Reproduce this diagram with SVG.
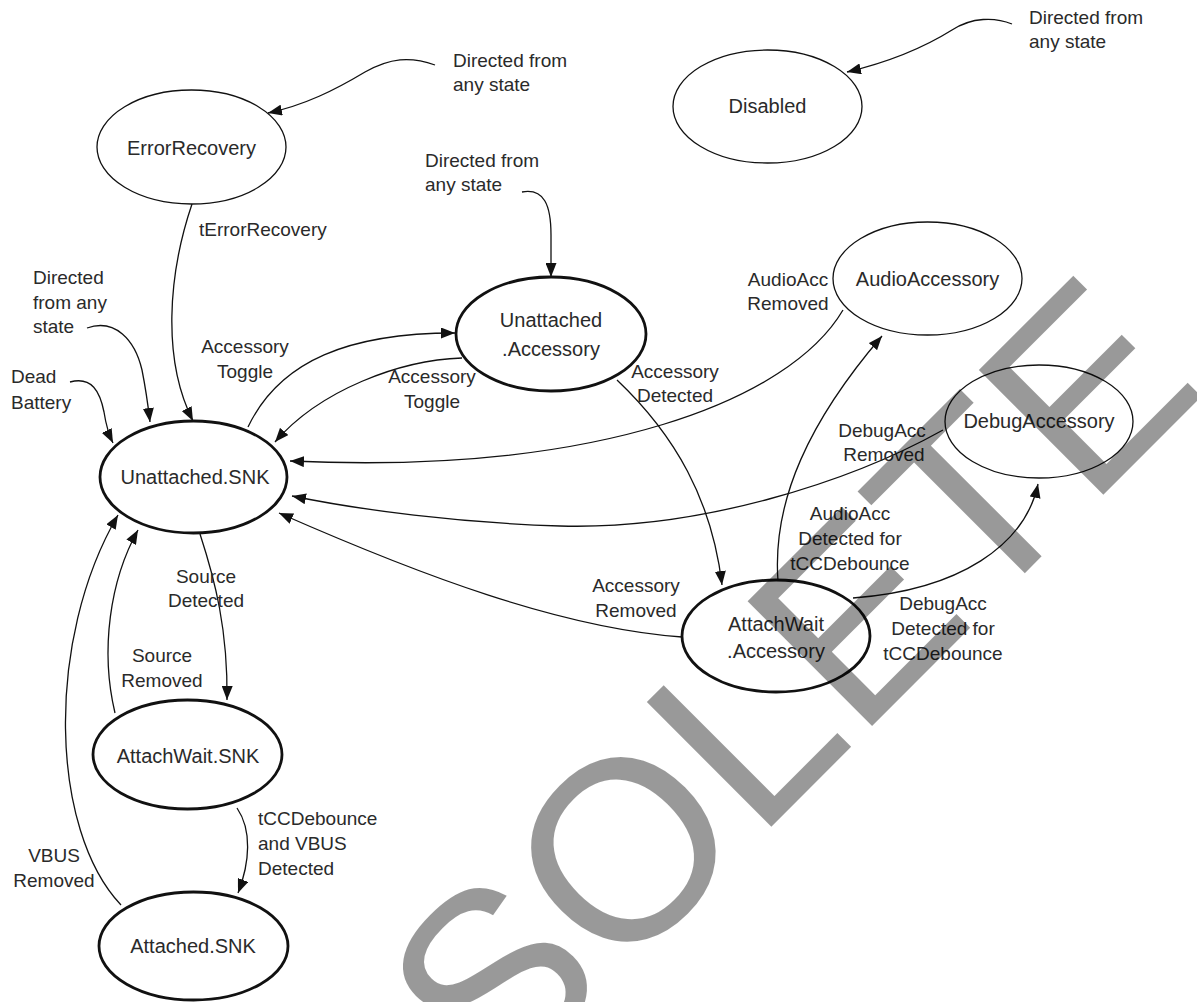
<svg xmlns="http://www.w3.org/2000/svg" width="1197" height="1002" viewBox="0 0 1197 1002">
<style>
  .bg { fill: #ffffff; }
  .thin { fill: none; stroke: #111; stroke-width: 1.3; }
  .thick { fill: none; stroke: #111; stroke-width: 2.8; }
  .ntext { font-family: "Liberation Sans", Arial, sans-serif; font-size: 20px; fill: #2a2a2a; text-anchor: middle; }
  .lbl { font-family: "Liberation Sans", Arial, sans-serif; font-size: 19px; fill: #2a2a2a; }
  .mid { text-anchor: middle; }
  .edge { fill: none; stroke: #111; stroke-width: 1.3; marker-end: url(#arr); }
  .plain { fill: none; stroke: #111; stroke-width: 1.3; }
  .wm { font-family: "Liberation Sans", Arial, sans-serif; font-size: 256px; fill: #000; fill-opacity: 0.4; }
</style>
<defs>
  <marker id="arr" viewBox="0 0 14 11" refX="14" refY="5.5" markerWidth="14" markerHeight="11" orient="auto" markerUnits="userSpaceOnUse">
    <path d="M0,0 L14,5.5 L0,11 z" fill="#111"/>
  </marker>
</defs>
<rect class="bg" x="0" y="0" width="1197" height="1002"/>

<g id="connectors">
  <path class="edge" d="M435,65 C410,56 390,58 365,72 C335,90 305,105 268,113"/>
  <path class="edge" d="M522,192 C544,188 551,205 551,235 L551,277"/>
  <path class="edge" d="M1012,24 C995,17 972,17 952,30 C920,50 885,63 847,72"/>
  <path class="edge" d="M87,328 C115,318 135,340 142,370 C146,390 148,405 150,422"/>
  <path class="edge" d="M70,382 C92,376 100,392 104,412 C106,425 109,435 113,443"/>
  <path class="edge" d="M192,204 C168,275 162,360 193,421"/>
  <path class="edge" d="M248,427 C280,360 350,333 455,333"/>
  <path class="edge" d="M462,358 C400,360 320,390 275,442"/>
  <path class="edge" d="M617,380 C675,435 712,500 722,585"/>
  <path class="edge" d="M843,310 C790,400 600,475 290,461"/>
  <path class="edge" d="M943,430 C850,482 700,530 560,526 C460,523 360,510 292,496"/>
  <path class="edge" d="M682,637 C560,628 420,575 279,513"/>
  <path class="edge" d="M778,581 C772,500 810,420 882,336"/>
  <path class="edge" d="M853,598 C960,590 1025,545 1038,484"/>
  <path class="edge" d="M200,534 C215,580 228,630 227,700"/>
  <path class="edge" d="M115,713 C100,650 110,580 138,530"/>
  <path class="edge" d="M121,905 C50,830 45,640 118,515"/>
  <path class="edge" d="M237,808 C252,830 250,862 238,893"/>
</g>

<g id="labels">
  <text class="lbl" x="453" y="67">Directed from</text>
  <text class="lbl" x="453" y="91">any state</text>
  <text class="lbl" x="425" y="167">Directed from</text>
  <text class="lbl" x="425" y="191">any state</text>
  <text class="lbl" x="1029" y="24">Directed from</text>
  <text class="lbl" x="1029" y="48">any state</text>
  <text class="lbl" x="199" y="236">tErrorRecovery</text>
  <text class="lbl" x="33" y="284">Directed</text>
  <text class="lbl" x="33" y="309">from any</text>
  <text class="lbl" x="33" y="333">state</text>
  <text class="lbl" x="11" y="383">Dead</text>
  <text class="lbl" x="11" y="409">Battery</text>
  <text class="lbl mid" x="245" y="353">Accessory</text>
  <text class="lbl mid" x="245" y="378">Toggle</text>
  <text class="lbl mid" x="432" y="383">Accessory</text>
  <text class="lbl mid" x="432" y="408">Toggle</text>
  <text class="lbl mid" x="675" y="378">Accessory</text>
  <text class="lbl mid" x="675" y="402">Detected</text>
  <text class="lbl mid" x="788" y="286">AudioAcc</text>
  <text class="lbl mid" x="788" y="310">Removed</text>
  <text class="lbl mid" x="882" y="437">DebugAcc</text>
  <text class="lbl mid" x="884" y="461">Removed</text>
  <text class="lbl mid" x="850" y="520">AudioAcc</text>
  <text class="lbl mid" x="850" y="545">Detected for</text>
  <text class="lbl mid" x="850" y="570">tCCDebounce</text>
  <text class="lbl mid" x="636" y="592">Accessory</text>
  <text class="lbl mid" x="636" y="617">Removed</text>
  <text class="lbl mid" x="943" y="610">DebugAcc</text>
  <text class="lbl mid" x="943" y="635">Detected for</text>
  <text class="lbl mid" x="943" y="660">tCCDebounce</text>
  <text class="lbl mid" x="206" y="583">Source</text>
  <text class="lbl mid" x="206" y="607">Detected</text>
  <text class="lbl mid" x="162" y="662">Source</text>
  <text class="lbl mid" x="162" y="687">Removed</text>
  <text class="lbl" x="258" y="825">tCCDebounce</text>
  <text class="lbl" x="258" y="850">and VBUS</text>
  <text class="lbl" x="258" y="875">Detected</text>
  <text class="lbl mid" x="54" y="862">VBUS</text>
  <text class="lbl mid" x="54" y="887">Removed</text>
</g>

<g id="node-ErrorRecovery">
  <ellipse class="thin" cx="191.5" cy="147" rx="94.5" ry="57"/>
  <text class="ntext" x="191.5" y="155">ErrorRecovery</text>
</g>
<g id="node-Disabled">
  <ellipse class="thin" cx="767.5" cy="106.5" rx="94.5" ry="56.5"/>
  <text class="ntext" x="767.5" y="113">Disabled</text>
</g>
<g id="node-UnattachedAccessory">
  <ellipse class="thick" cx="551" cy="334" rx="95" ry="57"/>
  <text class="ntext" x="551" y="327">Unattached</text>
  <text class="ntext" x="551" y="356">.Accessory</text>
</g>
<g id="node-UnattachedSNK">
  <ellipse class="thick" cx="193.5" cy="477" rx="93.5" ry="56"/>
  <text class="ntext" x="195" y="484">Unattached.SNK</text>
</g>
<g id="node-AudioAccessory">
  <ellipse class="thin" cx="927.5" cy="278.5" rx="94.5" ry="56.5"/>
  <text class="ntext" x="927.5" y="286">AudioAccessory</text>
</g>
<g id="node-DebugAccessory">
  <ellipse class="thin" cx="1039" cy="421.5" rx="94" ry="56.5"/>
  <text class="ntext" x="1039" y="428">DebugAccessory</text>
</g>
<g id="node-AttachWaitAccessory">
  <ellipse class="thick" cx="776" cy="636" rx="94" ry="56"/>
  <text class="ntext" x="776" y="631">AttachWait</text>
  <text class="ntext" x="776" y="658">.Accessory</text>
</g>
<g id="node-AttachWaitSNK">
  <ellipse class="thick" cx="187.5" cy="754.5" rx="94.5" ry="54.5"/>
  <text class="ntext" x="188" y="763">AttachWait.SNK</text>
</g>
<g id="node-AttachedSNK">
  <ellipse class="thick" cx="193.5" cy="946" rx="94.5" ry="54"/>
  <text class="ntext" x="193" y="953">Attached.SNK</text>
</g>

<text class="wm" transform="translate(495,1103) rotate(-45)">SOLETE</text>
</svg>
